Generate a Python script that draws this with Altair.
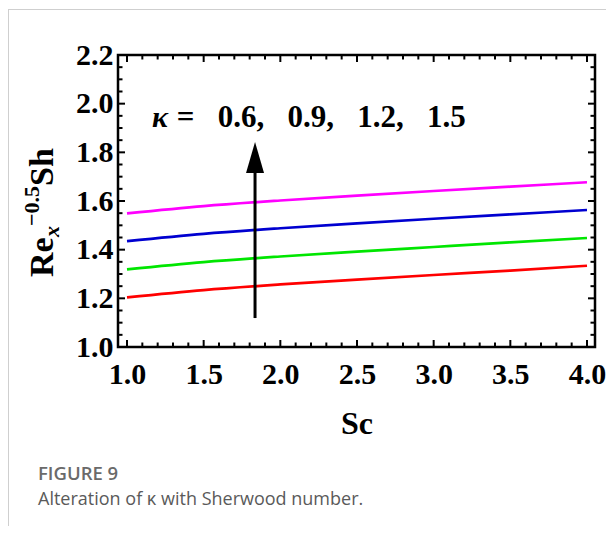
import altair as alt
import pandas as pd

# ---------------- data ----------------
sc = [1.0, 1.5, 2.0, 2.5, 3.0, 3.5, 4.0]
kappa_labels = ["0.6", "0.9", "1.2", "1.5"]
sh_k06 = [1.204, 1.234, 1.257, 1.277, 1.296, 1.314, 1.334]
sh_k09 = [1.319, 1.349, 1.372, 1.392, 1.411, 1.430, 1.448]
sh_k12 = [1.435, 1.465, 1.488, 1.508, 1.527, 1.545, 1.563]
sh_k15 = [1.549, 1.579, 1.602, 1.622, 1.641, 1.659, 1.677]
line_colors = ["#ff0000", "#00e600", "#0000d0", "#ff00ff"]

x_ticks = [1.0, 1.5, 2.0, 2.5, 3.0, 3.5, 4.0]
x_minor = [1.1, 1.2, 1.3, 1.4, 1.6, 1.7, 1.8, 1.9, 2.1, 2.2, 2.3, 2.4,
           2.6, 2.7, 2.8, 2.9, 3.1, 3.2, 3.3, 3.4, 3.6, 3.7, 3.8, 3.9]
y_ticks = [1.0, 1.2, 1.4, 1.6, 1.8, 2.0, 2.2]
y_minor = [1.05, 1.1, 1.15, 1.25, 1.3, 1.35, 1.45, 1.5, 1.55, 1.65, 1.7, 1.75,
           1.85, 1.9, 1.95, 2.05, 2.1, 2.15]

arrow_sc = [1.835, 1.835]
arrow_val = [1.119, 1.73]
head_sc = [1.835]
head_val = [1.779]

NB3 = "\u00a0\u00a0\u00a0"
anno_sc = [1.163, 1.325]
anno_val = [1.904, 1.904]
anno_text = ["κ", "=" + NB3 + "0.6," + NB3 + "0.9," + NB3 + "1.2," + NB3 + "1.5"]

# ---------------- layout ----------------
W, H = 477, 292
SERIF = "Liberation Serif"

rows = []
for k, ys in zip(kappa_labels, [sh_k06, sh_k09, sh_k12, sh_k15]):
    for s, v in zip(sc, ys):
        rows.append({"Sc": s, "Sh": v, "kappa": k})
df = pd.DataFrame(rows)

xs = alt.Scale(domain=[0.9413, 4.0522], nice=False, zero=False)
ys_ = alt.Scale(domain=[1.0, 2.2], nice=False, zero=False)

x_axis = alt.Axis(values=x_ticks, format=".1f", title="Sc", titleFont=SERIF,
                  titleFontSize=32, titleFontWeight="bold", titleColor="black",
                  titleBaseline="alphabetic", titleY=86, titleX=W / 2,
                  labelBaseline="alphabetic", labelPadding=36)
y_axis = alt.Axis(values=y_ticks, format=".1f", title="",
                  labelAlign="right", labelBaseline="middle", labelPadding=5)

def X():
    return alt.X("Sc:Q", scale=xs, axis=x_axis)

def Y():
    return alt.Y("Sh:Q", scale=ys_, axis=y_axis)

lines = alt.Chart(df).mark_line(strokeWidth=2.7, interpolate="monotone").encode(
    x=X(), y=Y(),
    color=alt.Color("kappa:N", scale=alt.Scale(domain=kappa_labels, range=line_colors),
                    legend=None),
)

def tick_layer(vals, orient, length, width):
    if orient in ("bottom", "top"):
        d = pd.DataFrame({"Sc": vals})
        base = alt.Chart(d).mark_rule(color="black", strokeWidth=width)
        if orient == "bottom":
            return base.encode(x=X(), y=alt.value(H), y2=alt.value(H - length))
        return base.encode(x=X(), y=alt.value(0), y2=alt.value(length))
    d = pd.DataFrame({"Sh": vals})
    base = alt.Chart(d).mark_rule(color="black", strokeWidth=width)
    if orient == "left":
        return base.encode(y=Y(), x=alt.value(0), x2=alt.value(length))
    return base.encode(y=Y(), x=alt.value(W), x2=alt.value(W - length))

ticks = [
    tick_layer(x_ticks, "bottom", 7, 2), tick_layer(x_minor, "bottom", 4.5, 2),
    tick_layer(x_ticks, "top", 7, 2), tick_layer(x_minor, "top", 4.5, 2),
    tick_layer(y_ticks, "left", 7, 2), tick_layer(y_minor, "left", 4.5, 2),
    tick_layer(y_ticks, "right", 7, 2), tick_layer(y_minor, "right", 4.5, 2),
]

arrow = alt.Chart(pd.DataFrame({"Sc": arrow_sc, "Sh": arrow_val})).mark_line(
    color="black", strokeWidth=3).encode(x=X(), y=Y())
head = alt.Chart(pd.DataFrame({"Sc": head_sc, "Sh": head_val})).mark_point(
    shape="M0,-1L0.58,1L-0.58,1Z", size=961, filled=True, color="black", opacity=1,
    strokeWidth=0).encode(x=X(), y=Y())

anno_df = pd.DataFrame({"Sc": anno_sc, "Sh": anno_val, "t": anno_text})
anno_k = alt.Chart(anno_df.iloc[[0]]).mark_text(
    font=SERIF, fontSize=30, fontWeight="bold", fontStyle="italic", align="left",
    baseline="alphabetic", color="black").encode(x=X(), y=Y(), text="t:N")
anno_v = alt.Chart(anno_df.iloc[[1]]).mark_text(
    font=SERIF, fontSize=31, fontWeight="bold", align="left",
    baseline="alphabetic", color="black").encode(x=X(), y=Y(), text="t:N")

one = pd.DataFrame({"a": [0]})

def label(text, x, y, size, weight="bold", style="normal", angle=0, font=SERIF, color="black"):
    return alt.Chart(one).mark_text(
        text=text, font=font, fontSize=size, fontWeight=weight, fontStyle=style,
        align="left", baseline="alphabetic", angle=angle, color=color).encode(
        x=alt.value(x), y=alt.value(y))

ytitle = [
    label("Re", -65, 222, 34, angle=270),
    label("x", -59, 182, 22, style="italic", angle=270),
    label("\u22120.5", -79, 171, 22, angle=270),
    label("Sh", -65, 131, 34, angle=270),
]

caption = [
    label("FIGURE 9", -80, 425, 18.5, weight=600, font="Open Sans", color="#6a6a6a"),
    label("Alteration of κ with Sherwood number.", -80, 450, 18, weight="normal",
          font="Open Sans", color="#5a5a5a"),
]

border_top = alt.Chart(one).mark_rule(color="#cfcfcf", strokeWidth=1).encode(
    x=alt.value(-110), x2=alt.value(W + 20), y=alt.value(-45.5))
border_left = alt.Chart(one).mark_rule(color="#cfcfcf", strokeWidth=1).encode(
    x=alt.value(-109.5), y=alt.value(-45.5), y2=alt.value(H + 200))

chart = alt.layer(
    lines, *ticks, arrow, head, anno_k, anno_v, *ytitle, *caption, border_top, border_left
).properties(
    width=W, height=H,
    autosize=alt.AutoSizeParams(type="none"),
    padding={"left": 110, "top": 47, "right": 11, "bottom": 179},
    background="white",
).configure_view(
    stroke="black", strokeWidth=2.5
).configure_axis(
    domain=False, grid=False, ticks=False, tickSize=0,
    labelFont=SERIF, labelFontSize=30, labelFontWeight="bold", labelColor="black",
    labelFlush=False, labelOverlap=False, labelBound=False,
)

chart.save("out.html", embed_options={"renderer": "svg", "actions": False})
